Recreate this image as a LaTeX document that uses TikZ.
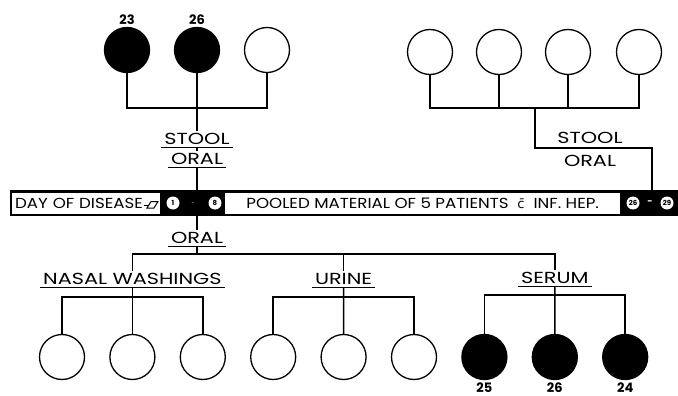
\documentclass[tikz,border=0pt]{standalone}
\usepackage{fontspec}
\setmainfont{Poppins}
\newfontfamily\sitefont[FakeStretch=1.3]{Poppins}
\newfontfamily\barfont[FakeStretch=1.15]{Poppins}
\newfontfamily\withfont{DejaVu Sans}
\usetikzlibrary{positioning}
\tikzset{
    %Define style for circles
    positive/.style={
           circle,
           draw=black, line width=1.3pt,
           fill=black,
           minimum size=45pt,
           inner sep=0pt},
    negative/.style={
           circle,
           draw=black, line width=1.3pt,
           fill=white,
           minimum size=45pt,
           inner sep=0pt},
    %Define style for texts
    site/.style={
           font=\sitefont\fontsize{16}{16}\selectfont,
           inner xsep=3pt, inner ysep=2.5pt,
           text height=11.5pt, text depth=0pt},
    tag/.style={
           font=\fontsize{13}{13}\selectfont\bfseries,
           inner sep=1pt},
    barbox/.style={
           rectangle,
           fill=white,
           minimum height=21pt,
           inner xsep=3pt,
           font=\barfont\fontsize{14.5}{14.5}\selectfont},
    day/.style={
           circle,
           fill=white,
           minimum size=13pt,
           inner sep=0pt,
           font=\fontsize{7}{7}\selectfont\bfseries},
    % Define line style
    link/.style={
           line width=1.5pt}
}
\begin{document}
\begin{tikzpicture}[x=1pt,y=-1pt]
\useasboundingbox (0,0) rectangle (678,396);
 %bar
\node[fill=black, minimum width=668pt, minimum height=26pt, inner sep=0pt] (bar) at (344,203) {};
\node[barbox, anchor=west, minimum width=148pt, text width=142pt, align=left] (dayBox) at (12,203) {DAY OF DISEASE};
\draw[line width=1pt] (144,205) -- (149,205);
\draw[line width=1pt, fill=white] (147,208) -- (151,201.5) -- (158,201.5) -- (154,208) -- cycle;
\node[day] (d1) at (173,203) {1};
\node[white, font=\tiny] (dash1) at (193,203) {-};
\node[day] (d8) at (215,203) {8};
\node[barbox, anchor=west, minimum width=395pt] (poolBox) at (225,203) {POOLED MATERIAL OF 5 PATIENTS\ \ {\withfont\fontsize{13}{13}\selectfont c̄}\ \ INF. HEP.};
\node[day] (d26) at (633,203) {26};
\node[white, font=\small\bfseries] (dash2) at (650,203) {-};
\node[day] (d29) at (667,203) {29};
 %top left
\foreach \x/\s [count=\i] in {127/positive,197/positive,267/negative}
    \node[\s] (L\i) at (\x,50) {};
\node[tag, above=1pt of L1] {23};
\node[tag, above=1pt of L2] {26};
\coordinate (jL) at (197,108);
\node[site] (stoolL) at (197,139) {STOOL};
\node[site] (oralL) at (197,159) {ORAL};
\draw[link] (L1) |- (jL) -| (L3);
\draw[link] (L2) -- (jL);
\draw[link] (jL) -- (stoolL);
\draw[link] (stoolL) -- (oralL);
\draw[link] (oralL) -- (oralL |- bar.north);
 %top right
\foreach \x [count=\i] in {430,499,568,639}
    \node[negative] (R\i) at (\x,52) {};
\coordinate (jR) at (535,108);
\coordinate (kR) at (652,148);
\node[site] (stoolR) at (590,138) {STOOL};
\node[site] (oralR) at (590,161) {ORAL};
\draw[link] (R1) |- (jR) -| (R4);
\draw[link] (R2) -- (R2 |- jR);
\draw[link] (R3) -- (R3 |- jR);
\draw[link] (jR) |- (kR) -- (kR |- bar.north);
 %bottom
\node[site] (oralB) at (197,238) {ORAL};
\node[site] (nasal) at (132.4,279) {NASAL WASHINGS};
\node[site] (urine) at (343.6,279) {URINE};
\node[site] (serum) at (554.8,278) {SERUM};
\foreach \s [count=\i] in {negative,negative,negative,negative,negative,negative,positive,positive,positive}
    \node[\s] (B\i) at ({62+70.4*(\i-1)},357) {};
\node[tag, below=1pt of B7] {25};
\node[tag, below=1pt of B8] {26};
\node[tag, below=1pt of B9] {24};
\coordinate (jB) at (197,254);
\coordinate (jN) at (132.4,297);
\coordinate (jU) at (343.6,297);
\coordinate (jS) at (554.8,295);
\draw[link] (oralB |- bar.south) -- (oralB);
\draw[link] (oralB) -- (jB);
\draw[link] (nasal) |- (jB) -| (serum);
\draw[link] (urine) -- (urine |- jB);
\draw[link] (B1) |- (jN) -| (B3);
\draw[link] (nasal) -- (B2);
\draw[link] (B4) |- (jU) -| (B6);
\draw[link] (urine) -- (B5);
\draw[link] (B7) |- (jS) -| (B9);
\draw[link] (serum) -- (B8);
 %underlines
\foreach \n in {stoolL,oralL,oralB,nasal,urine,serum}
    \draw[line width=1.2pt] (\n.south west) -- (\n.south east);
\end{tikzpicture}
\end{document}
